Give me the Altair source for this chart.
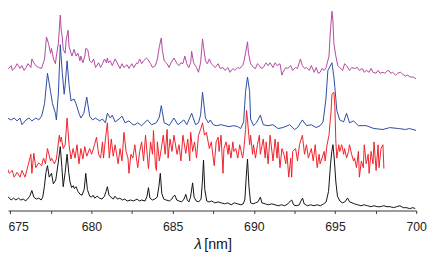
import altair as alt
import pandas as pd

# (wavelength nm, offset intensity)
black = [(674.52,19),(674.6,14),(674.75,12),(674.9,14),(675.05,11),(675.2,13),(675.35,11),(675.5,13),(675.65,11),(675.8,12),
 (675.95,10),(676.1,13),(676.2,15),(676.33,21),(676.45,14),(676.6,12),(676.75,13),(676.9,11),(677.0,14),(677.1,25),
 (677.2,40),(677.29,47),(677.4,35),(677.54,39),(677.65,28),(677.8,32),(677.95,50),(678.08,67),(678.18,45),(678.26,25),
 (678.38,40),(678.5,59),(678.6,40),(678.68,30),(678.78,24),(678.88,26),(678.95,23),(679.05,25),(679.17,20),(679.3,17),
 (679.42,16),(679.55,22),(679.65,39),(679.75,22),(679.89,15),(680.0,14),(680.1,16),(680.2,13),(680.35,15),(680.5,13),
 (680.65,12),(680.8,15),(680.9,20),(680.98,25),(681.08,16),(681.2,14),(681.35,12),(681.45,15),(681.6,12),(681.75,13),
 (681.9,11),(682.05,12),(682.2,10),(682.4,11),(682.6,10),(682.8,12),(682.95,10),(683.1,11),(683.3,10),(683.42,15),
 (683.51,24),(683.6,13),(683.75,11),(683.9,12),(684.05,14),(684.15,25),(684.24,39),(684.33,18),(684.45,12),(684.6,11),
 (684.8,10),(684.95,12),(685.05,15),(685.14,16),(685.25,11),(685.4,10),(685.55,9),(685.7,12),(685.81,17),(685.9,11),
 (686.0,9),(686.1,14),(686.23,29),(686.32,14),(686.45,10),(686.6,9),(686.75,12),(686.83,30),(686.9,53),(686.98,22),
 (687.1,10),(687.25,9),(687.4,10),(687.6,8),(687.8,9),(688.0,8),(688.2,7),(688.4,8),(688.6,6),(688.8,8),
 (689.0,7),(689.2,6),(689.35,7),(689.45,12),(689.53,35),(689.61,54),(689.7,25),(689.8,8),(689.95,7),(690.1,8),
 (690.25,9),(690.4,14),(690.5,8),(690.7,7),(690.9,6),(691.1,7),(691.3,6),(691.5,5),(691.7,6),(691.9,5),
 (692.1,7),(692.25,10),(692.33,11),(692.45,6),(692.6,5),(692.8,6),(692.9,10),(693.0,13),(693.1,7),(693.3,5),
 (693.5,6),(693.7,5),(693.9,6),(694.1,5),(694.3,7),(694.45,9),(694.6,20),(694.72,48),(694.8,62),(694.87,69),
 (694.95,55),(695.05,30),(695.15,15),(695.3,10),(695.45,8),(695.6,9),(695.77,13),(695.9,9),(696.05,8),(696.2,7),
 (696.4,6),(696.6,5),(696.8,6),(697.0,5),(697.2,4),(697.4,5),(697.6,4),(697.8,4),(698.0,5),(698.2,4),
 (698.4,4),(698.6,3),(698.8,4),(699.0,5),(699.2,3),(699.4,3),(699.6,2),(699.8,3),(699.94,2)]

blue = [(674.52,107),(674.64,104),(674.82,97),(675.06,95),(675.24,97),(675.42,94),(675.6,97),(675.72,90),(675.97,95),(676.15,97),
 (676.33,94),(676.57,97),(676.75,95),(676.93,99),(677.11,112),(677.29,144),(677.48,125),(677.6,112),(677.78,102),(677.84,95),
 (677.96,122),(678.08,174),(678.2,145),(678.32,122),(678.38,132),(678.5,157),(678.62,132),(678.74,115),(678.93,117),(679.05,112),
 (679.23,102),(679.35,97),(679.53,102),(679.71,119),(679.89,99),(680.07,95),(680.25,97),(680.5,94),(680.68,96),(680.86,92),
 (680.98,102),(681.16,97),(681.28,100),(681.46,93),(681.7,96),(681.88,99),(682.07,92),(682.31,94),(682.55,90),(682.67,90),
 (682.85,92),(683.09,89),(683.45,95),(683.7,90),(683.99,92),(684.18,98),(684.3,110),(684.48,92),(684.72,90),(684.78,89),
 (685.08,97),(685.33,90),(685.69,95),(685.87,90),(686.17,102),(686.41,90),(686.59,92),(686.72,100),(686.84,124),(687.02,97),
 (687.2,92),(687.32,95),(687.5,90),(687.68,89),(687.98,90),(688.22,89),(688.47,88),(688.77,89),(689.01,88),(689.19,86),
 (689.37,93),(689.49,125),(689.61,140),(689.74,125),(689.8,96),(689.98,89),(690.16,92),(690.4,100),(690.58,90),(690.88,89),
 (691.18,90),(691.49,86),(691.79,87),(692.21,90),(692.51,85),(692.69,87),(692.99,95),(693.24,89),(693.54,90),(693.84,87),
 (694.08,89),(694.26,93),(694.44,117),(694.56,147),(694.81,155),(694.93,140),(694.99,129),(695.11,105),(695.29,95),(695.53,93),
 (695.71,102),(695.89,92),(696.14,94),(696.44,89),(696.92,89),(697.4,86),(697.95,85),(698.37,87),(698.91,86),(699.34,85),
 (699.58,86),(700.0,84)]

red = [(674.52,35),(674.58,47),(674.7,39),(674.82,44),(674.94,39),(675.12,42),(675.24,35),(675.42,40),(675.6,35),(675.72,42),
 (675.91,35),(676.09,47),(676.27,59),(676.33,39),(676.45,60),(676.57,45),(676.75,50),(676.93,47),(677.05,55),(677.17,49),
 (677.29,65),(677.48,52),(677.54,55),(677.72,49),(677.84,54),(678.02,79),(678.08,72),(678.14,77),(678.26,65),(678.38,69),
 (678.5,97),(678.62,69),(678.74,54),(678.87,65),(678.99,55),(679.11,69),(679.23,49),(679.35,65),(679.47,54),(679.59,67),
 (679.71,57),(679.89,65),(680.01,59),(680.19,69),(680.31,77),(680.44,59),(680.56,55),(680.68,72),(680.74,55),(680.86,75),
 (680.98,92),(681.1,55),(681.22,75),(681.34,57),(681.46,69),(681.64,49),(681.76,65),(681.88,52),(682.0,82),(682.13,62),
 (682.25,55),(682.31,39),(682.43,59),(682.55,55),(682.67,69),(682.79,52),(682.85,45),(682.97,62),(683.09,72),(683.21,52),
 (683.33,79),(683.45,55),(683.51,44),(683.64,72),(683.76,59),(683.82,84),(683.94,47),(684.0,42),(684.06,72),(684.18,52),
 (684.3,65),(684.42,79),(684.54,59),(684.66,85),(684.72,55),(684.84,75),(684.96,62),(685.08,79),(685.27,59),(685.39,69),
 (685.51,52),(685.63,79),(685.81,60),(685.93,75),(686.05,52),(686.11,82),(686.23,62),(686.35,72),(686.47,55),(686.59,79),
 (686.72,85),(686.84,92),(686.96,79),(687.08,82),(687.26,65),(687.38,72),(687.5,55),(687.56,47),(687.68,72),(687.8,77),
 (687.86,62),(687.98,79),(688.1,39),(688.16,65),(688.29,72),(688.41,59),(688.47,69),(688.59,55),(688.71,72),(688.77,62),
 (688.89,65),(689.01,55),(689.13,69),(689.31,55),(689.37,62),(689.49,85),(689.55,105),(689.61,95),(689.74,69),(689.8,79),
 (689.92,59),(689.98,69),(690.1,55),(690.22,69),(690.34,79),(690.4,59),(690.58,75),(690.7,55),(690.76,72),(690.88,49),
 (691.0,79),(691.18,52),(691.31,75),(691.43,55),(691.49,72),(691.61,45),(691.73,65),(691.85,59),(691.97,49),(692.03,62),
 (692.15,35),(692.27,55),(692.33,35),(692.39,62),(692.57,65),(692.69,52),(692.81,69),(692.99,79),(693.12,59),(693.24,69),
 (693.36,55),(693.54,65),(693.66,52),(693.78,69),(693.9,45),(694.02,59),(694.08,49),(694.2,55),(694.33,62),(694.39,52),
 (694.51,69),(694.63,79),(694.69,92),(694.75,102),(694.81,122),(694.93,124),(694.99,109),(695.05,72),(695.11,55),(695.23,69),
 (695.29,62),(695.41,69),(695.53,59),(695.59,65),(695.71,55),(695.83,62),(695.89,69),(696.02,59),(696.14,52),(696.2,55),
 (696.32,45),(696.44,62),(696.5,35),(696.62,52),(696.74,45),(696.8,69),(696.92,49),(697.04,59),(697.1,39),(697.22,62),
 (697.34,49),(697.4,72),(697.53,42),(697.65,69),(697.71,45),(697.83,65),(697.95,69),(698.01,44)]

magenta = [(674.52,154),(674.64,159),(674.76,150),(674.88,149),(675.06,152),(675.12,147),(675.3,150),(675.42,154),(675.6,149),(675.72,152),
 (675.85,147),(675.97,150),(676.09,154),(676.27,150),(676.33,159),(676.45,155),(676.57,152),(676.75,150),(676.93,149),(677.11,159),
 (677.23,182),(677.36,175),(677.48,165),(677.54,170),(677.66,159),(677.78,154),(677.84,162),(677.96,175),(678.08,205),(678.14,189),
 (678.2,182),(678.26,169),(678.38,165),(678.44,179),(678.56,189),(678.62,172),(678.74,165),(678.8,162),(678.93,169),(679.05,162),
 (679.17,165),(679.29,157),(679.35,162),(679.47,155),(679.59,162),(679.65,170),(679.77,169),(679.89,157),(680.01,155),(680.13,159),
 (680.25,150),(680.44,155),(680.56,150),(680.68,154),(680.8,159),(680.92,155),(680.98,160),(681.04,155),(681.16,157),(681.28,152),
 (681.46,159),(681.58,155),(681.76,149),(681.88,154),(682.0,150),(682.19,153),(682.31,149),(682.49,154),(682.61,150),(682.79,155),
 (682.85,154),(682.97,159),(683.09,154),(683.21,157),(683.39,160),(683.45,159),(683.64,154),(683.76,150),(683.94,152),(684.06,159),
 (684.18,172),(684.3,181),(684.36,169),(684.48,157),(684.66,154),(684.78,150),(684.9,155),(685.08,160),(685.27,154),(685.39,152),
 (685.51,155),(685.63,154),(685.75,162),(685.87,154),(685.99,150),(686.11,155),(686.17,167),(686.29,155),(686.47,150),(686.59,145),
 (686.72,155),(686.84,180),(686.9,172),(687.02,157),(687.14,154),(687.26,159),(687.38,154),(687.5,152),(687.62,150),(687.8,154),
 (687.92,149),(688.1,150),(688.22,147),(688.41,150),(688.53,145),(688.71,149),(688.83,147),(689.01,150),(689.13,149),(689.31,152),
 (689.37,155),(689.49,165),(689.61,177),(689.67,165),(689.8,154),(689.98,150),(690.1,149),(690.22,154),(690.34,152),(690.46,149),
 (690.58,150),(690.76,155),(690.88,152),(691.0,155),(691.18,150),(691.31,155),(691.43,152),(691.61,154),(691.73,142),(691.79,145),
 (691.97,150),(692.09,149),(692.27,152),(692.39,147),(692.57,150),(692.69,149),(692.87,159),(692.99,152),(693.12,149),(693.24,150),
 (693.42,147),(693.54,152),(693.72,145),(693.84,150),(693.96,144),(694.08,145),(694.2,149),(694.33,147),(694.45,150),(694.63,162),
 (694.69,182),(694.81,209),(694.87,199),(694.93,175),(695.05,162),(695.17,152),(695.29,150),(695.47,147),(695.59,154),(695.71,152),
 (695.89,147),(696.02,150),(696.2,149),(696.38,150),(696.5,147),(696.68,149),(696.8,145),(696.92,147),(697.1,145),(697.22,149),
 (697.34,145),(697.53,144),(697.65,147),(697.77,144),(697.95,145),(698.07,144),(698.19,146),(698.31,147),(698.43,144),(698.55,145),
 (698.73,142),(698.85,144),(699.03,145),(699.16,143),(699.34,141),(699.46,142),(699.64,140),(699.82,140),(700.0,138)]

series_names = ["magenta", "blue", "red", "black"]
series_data = [magenta, blue, red, black]
series_colors = ["#b3479f", "#2b4aa3", "#f0202a", "#111111"]

tick_values = [675, 677.5, 680, 682.5, 685, 687.5, 690, 692.5, 695, 697.5, 700]
title_parts = ["λ", "[nm]"]

x_scale = alt.Scale(domain=[674.86, 700], nice=False, zero=False)
y_scale = alt.Scale(domain=[0, 210], nice=False, zero=True)

x_axis = alt.Axis(
    values=tick_values,
    labelExpr="datum.value % 5 == 0 ? format(datum.value, 'd') : ''",
    labelOffset={"condition": {"test": "datum.value == 675", "value": 8}, "value": 0},
    tickSize=3, tickColor="#333", domainColor="#333", labelColor="#222",
    labelFont="Liberation Sans", labelFontSize=12.5, labelPadding=7,
    grid=False, title=None, labelOverlap=False, labelBound=False, labelFlush=False,
)

layers = []
for name, pts, col in zip(series_names, series_data, series_colors):
    df = pd.DataFrame(pts, columns=["wl", "v"])
    layers.append(
        alt.Chart(df).mark_line(color=col, strokeWidth=1, clip=True).encode(
            x=alt.X("wl:Q", scale=x_scale, axis=x_axis),
            y=alt.Y("v:Q", scale=y_scale, axis=None),
        )
    )

lam = alt.Chart(pd.DataFrame({"t": [title_parts[0]]})).mark_text(
    font="Liberation Sans", fontStyle="italic", fontSize=15, align="left", baseline="alphabetic", color="#111"
).encode(text="t:N", x=alt.value(190), y=alt.value(243))
nm = alt.Chart(pd.DataFrame({"t": [title_parts[1]]})).mark_text(
    font="Liberation Sans", fontSize=14.5, align="left", baseline="alphabetic", color="#111"
).encode(text="t:N", x=alt.value(200), y=alt.value(243))

chart = alt.layer(*layers, lam, nm).properties(
    width=416, height=204,
    autosize=alt.AutoSizeParams(type="none"),
    padding={"left": 0, "top": 0, "right": 12, "bottom": 45},
).configure_view(stroke=None)

chart.save("out.html", embed_options={"renderer": "svg", "actions": False})
